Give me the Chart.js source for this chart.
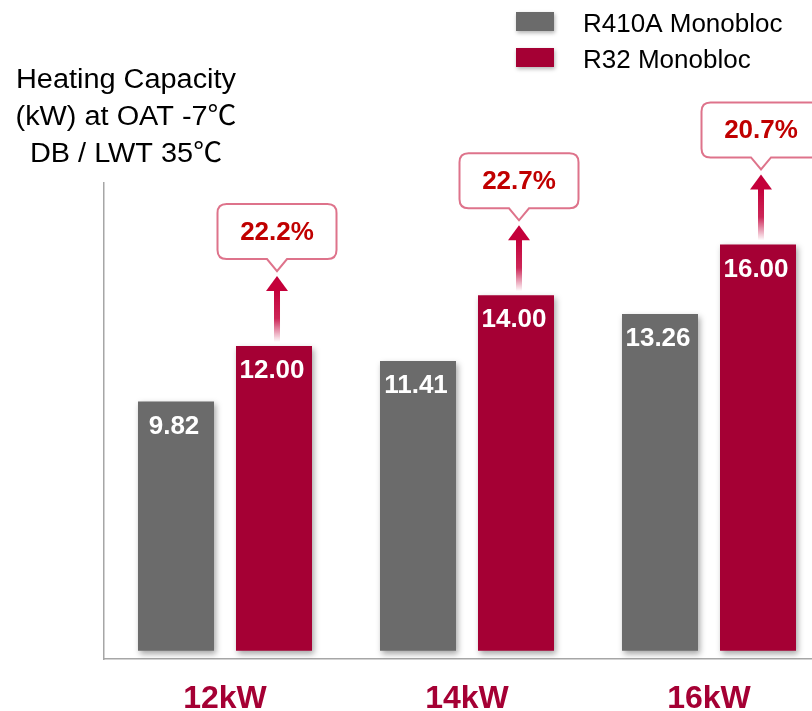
<!DOCTYPE html>
<html>
<head>
<meta charset="utf-8">
<script src="https://cdn.jsdelivr.net/npm/chart.js@4.4.1/dist/chart.umd.min.js"></script>
<style>
  html, body { margin: 0; padding: 0; background: #fff; overflow: hidden; }
  canvas { display: block; }
</style>
</head>
<body>
<canvas id="capacity-chart" width="830" height="711"></canvas>
<script>
// data
const categories = ['12kW', '14kW', '16kW'];
const seriesNames = ['R410A Monobloc', 'R32 Monobloc'];
const r410aValues = [9.82, 11.41, 13.26];
const r32Values = [12.00, 14.00, 16.00];
const increaseLabels = ['22.2%', '22.7%', '20.7%'];
const titleLines = ['Heating Capacity', '(kW) at OAT -7\u2103', 'DB / LWT 35\u2103'];

const GREY = '#6b6b6b';
const RED = '#a50034';
const FONT = '"Liberation Sans", Arial, "Noto Sans CJK SC", sans-serif';

// soft drop shadow under the bars
const barShadow = {
  id: 'barShadow',
  beforeDatasetsDraw(chart) {
    const ctx = chart.ctx;
    ctx.save();
    ctx.shadowColor = 'rgba(0,0,0,0.35)';
    ctx.shadowBlur = 6;
    ctx.shadowOffsetX = 2;
    ctx.shadowOffsetY = 3;
  },
  afterDatasetsDraw(chart) {
    chart.ctx.restore();
  }
};

function roundBox(ctx, x, y, w, h, r, cx, notchW, notchH) {
  ctx.beginPath();
  ctx.moveTo(x + r, y);
  ctx.lineTo(x + w - r, y);
  ctx.quadraticCurveTo(x + w, y, x + w, y + r);
  ctx.lineTo(x + w, y + h - r);
  ctx.quadraticCurveTo(x + w, y + h, x + w - r, y + h);
  ctx.lineTo(cx + notchW / 2, y + h);
  ctx.lineTo(cx, y + h + notchH);
  ctx.lineTo(cx - notchW / 2, y + h);
  ctx.lineTo(x + r, y + h);
  ctx.quadraticCurveTo(x, y + h, x, y + h - r);
  ctx.lineTo(x, y + r);
  ctx.quadraticCurveTo(x, y, x + r, y);
  ctx.closePath();
}

const decorations = {
  id: 'decorations',
  afterDraw(chart) {
    const ctx = chart.ctx;

    // axis title, top left (text in the source is a bit wide)
    ctx.save();
    ctx.translate(126, 0);
    ctx.scale(1.07, 1);
    ctx.fillStyle = '#000';
    ctx.font = '27px ' + FONT;
    ctx.textAlign = 'center';
    ctx.textBaseline = 'alphabetic';
    titleLines.forEach((t, i) => ctx.fillText(t, 0, 88 + i * 37));
    ctx.restore();

    // legend
    ctx.save();
    [GREY, RED].forEach((c, i) => {
      const y = 12 + i * 36;
      ctx.save();
      ctx.shadowColor = 'rgba(0,0,0,0.3)';
      ctx.shadowBlur = 4;
      ctx.shadowOffsetX = 1;
      ctx.shadowOffsetY = 2;
      ctx.fillStyle = c;
      ctx.fillRect(516, y, 38, 19);
      ctx.restore();
      ctx.fillStyle = '#000';
      ctx.font = '26px ' + FONT;
      ctx.textAlign = 'left';
      ctx.textBaseline = 'alphabetic';
      ctx.fillText(seriesNames[i], 583, y + 20);
    });
    ctx.restore();

    // value labels inside bars
    chart.data.datasets.forEach((ds, di) => {
      chart.getDatasetMeta(di).data.forEach((bar, i) => {
        ctx.save();
        ctx.fillStyle = '#fff';
        ctx.font = 'bold 26px ' + FONT;
        ctx.textAlign = 'center';
        ctx.textBaseline = 'middle';
        ctx.fillText(ds.data[i].toFixed(2), bar.x - 2, bar.y + 25);
        ctx.restore();
      });
    });

    // arrows and callouts above the R32 bars
    chart.getDatasetMeta(1).data.forEach((bar, i) => {
      const cx = bar.x + 3;
      const top = bar.y;
      ctx.save();
      const grad = ctx.createLinearGradient(0, top - 4, 0, top - 56);
      grad.addColorStop(0, 'rgba(196,0,58,0)');
      grad.addColorStop(0.45, 'rgba(196,0,58,0.85)');
      grad.addColorStop(1, 'rgba(196,0,58,1)');
      ctx.fillStyle = grad;
      ctx.fillRect(cx - 3, top - 56, 6, 52);
      ctx.fillStyle = '#c4003a';
      ctx.beginPath();
      ctx.moveTo(cx - 11, top - 55);
      ctx.lineTo(cx, top - 70);
      ctx.lineTo(cx + 11, top - 55);
      ctx.closePath();
      ctx.fill();

      const bw = 119, bh = 55;
      const bx = cx - bw / 2, by = top - 87 - bh;
      roundBox(ctx, bx, by, bw, bh, 9, cx, 20, 12);
      ctx.fillStyle = '#fff';
      ctx.fill();
      ctx.strokeStyle = 'rgba(214,80,110,0.8)';
      ctx.lineWidth = 2;
      ctx.stroke();

      ctx.fillStyle = '#c00000';
      ctx.font = 'bold 26px ' + FONT;
      ctx.textAlign = 'center';
      ctx.textBaseline = 'middle';
      ctx.fillText(increaseLabels[i], cx, by + bh / 2 + 1);
      ctx.restore();
    });
  }
};

const ctx = document.getElementById('capacity-chart').getContext('2d');
new Chart(ctx, {
  type: 'bar',
  data: {
    labels: categories,
    datasets: [
      { label: seriesNames[0], data: r410aValues, backgroundColor: GREY },
      { label: seriesNames[1], data: r32Values, backgroundColor: RED }
    ]
  },
  options: {
    responsive: false,
    animation: false,
    categoryPercentage: 0.81,
    barPercentage: 0.7755,
    layout: { padding: { top: 183, left: 0, right: 0, bottom: 0 } },
    plugins: {
      legend: { display: false },
      tooltip: { enabled: false }
    },
    scales: {
      x: {
        grid: { display: false, drawTicks: false },
        border: { display: true, color: '#a6a6a6', width: 1.5 },
        ticks: {
          color: RED,
          font: { family: FONT, size: 32, weight: 'bold', lineHeight: 1 },
          padding: 24
        },
        afterFit(scale) { scale.height = 52; }
      },
      y: {
        min: -0.32,
        max: 18.42,
        grid: { display: false, drawTicks: false },
        border: { display: true, color: '#a6a6a6', width: 1.5 },
        ticks: { display: false },
        afterFit(scale) { scale.width = 104; }
      }
    }
  },
  plugins: [barShadow, decorations]
});
</script>
</body>
</html>
